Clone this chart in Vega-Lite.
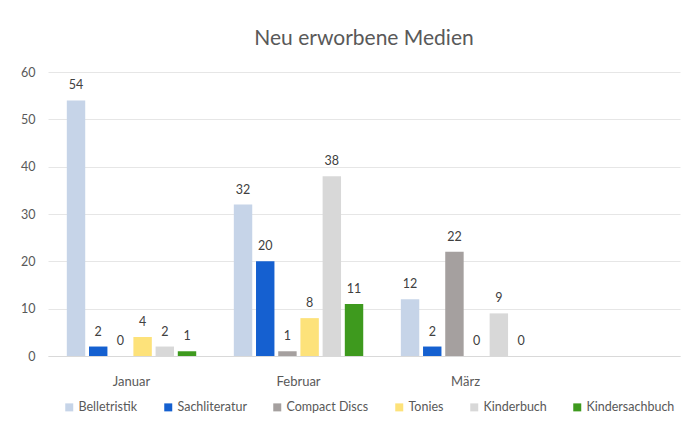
{
  "$schema": "https://vega.github.io/schema/vega-lite/v6.json",
  "autosize": {"type": "none"},
  "width": 632,
  "height": 284,
  "padding": {"left": 48, "top": 72, "right": 4, "bottom": 69},
  "background": "white",
  "title": {"text": "Neu erworbene Medien", "fontSize": 21, "fontWeight": "normal", "color": "#595959", "font": "Lato", "anchor": "middle", "offset": 17},
  "data": {
    "values": [
      {"monat": "Januar", "art": "Belletristik", "anzahl": 54},
      {"monat": "Januar", "art": "Sachliteratur", "anzahl": 2},
      {"monat": "Januar", "art": "Compact Discs", "anzahl": 0},
      {"monat": "Januar", "art": "Tonies", "anzahl": 4},
      {"monat": "Januar", "art": "Kinderbuch", "anzahl": 2},
      {"monat": "Januar", "art": "Kindersachbuch", "anzahl": 1},
      {"monat": "Februar", "art": "Belletristik", "anzahl": 32},
      {"monat": "Februar", "art": "Sachliteratur", "anzahl": 20},
      {"monat": "Februar", "art": "Compact Discs", "anzahl": 1},
      {"monat": "Februar", "art": "Tonies", "anzahl": 8},
      {"monat": "Februar", "art": "Kinderbuch", "anzahl": 38},
      {"monat": "Februar", "art": "Kindersachbuch", "anzahl": 11},
      {"monat": "März", "art": "Belletristik", "anzahl": 12},
      {"monat": "März", "art": "Sachliteratur", "anzahl": 2},
      {"monat": "März", "art": "Compact Discs", "anzahl": 22},
      {"monat": "März", "art": "Tonies", "anzahl": 0},
      {"monat": "März", "art": "Kinderbuch", "anzahl": 9},
      {"monat": "März", "art": "Kindersachbuch", "anzahl": 0}
    ]
  },
  "encoding": {
    "x": {
      "field": "monat", "type": "nominal", "sort": ["Januar", "Februar", "März"],
      "scale": {"paddingInner": 0, "paddingOuter": 0.392, "align": 0},
      "axis": {"title": null, "labelAngle": 0, "ticks": false, "domainColor": "#d9d9d9", "labelColor": "#595959", "labelFontSize": 13, "labelFont": "Lato", "labelPadding": 19}
    },
    "xOffset": {
      "field": "art", "type": "nominal",
      "sort": ["Belletristik", "Sachliteratur", "Compact Discs", "Tonies", "Kinderbuch", "Kindersachbuch"],
      "scale": {"paddingInner": 0.17, "paddingOuter": 0.847}
    },
    "y": {
      "field": "anzahl", "type": "quantitative",
      "scale": {"domain": [0, 60], "nice": false},
      "axis": {"title": null, "values": [0, 10, 20, 30, 40, 50, 60], "domain": false, "ticks": false, "gridColor": "#e6e6e6", "labelColor": "#595959", "labelFontSize": 12.5, "labelFont": "Lato", "labelPadding": 13}
    }
  },
  "layer": [
    {
      "mark": {"type": "bar"},
      "encoding": {
        "color": {
          "field": "art", "type": "nominal",
          "sort": ["Belletristik", "Sachliteratur", "Compact Discs", "Tonies", "Kinderbuch", "Kindersachbuch"],
          "scale": {
            "domain": ["Belletristik", "Sachliteratur", "Compact Discs", "Tonies", "Kinderbuch", "Kindersachbuch"],
            "range": ["#c6d4e8", "#1560d0", "#a5a09f", "#fde27a", "#d8d8d8", "#3e9a1e"]
          },
          "legend": {"title": null, "orient": "bottom", "direction": "horizontal", "symbolType": "square", "symbolSize": 64, "symbolStrokeWidth": 0, "labelFontSize": 12.5, "labelFont": "Lato", "labelColor": "#595959", "labelOffset": 3, "columnPadding": 24, "padding": 15, "offset": -2}
        }
      }
    },
    {
      "mark": {"type": "text", "baseline": "bottom", "dy": -8, "fontSize": 12.5, "font": "Lato", "color": "#404040"},
      "encoding": {"text": {"field": "anzahl", "type": "quantitative"}}
    }
  ],
  "config": {"view": {"stroke": null}}
}
